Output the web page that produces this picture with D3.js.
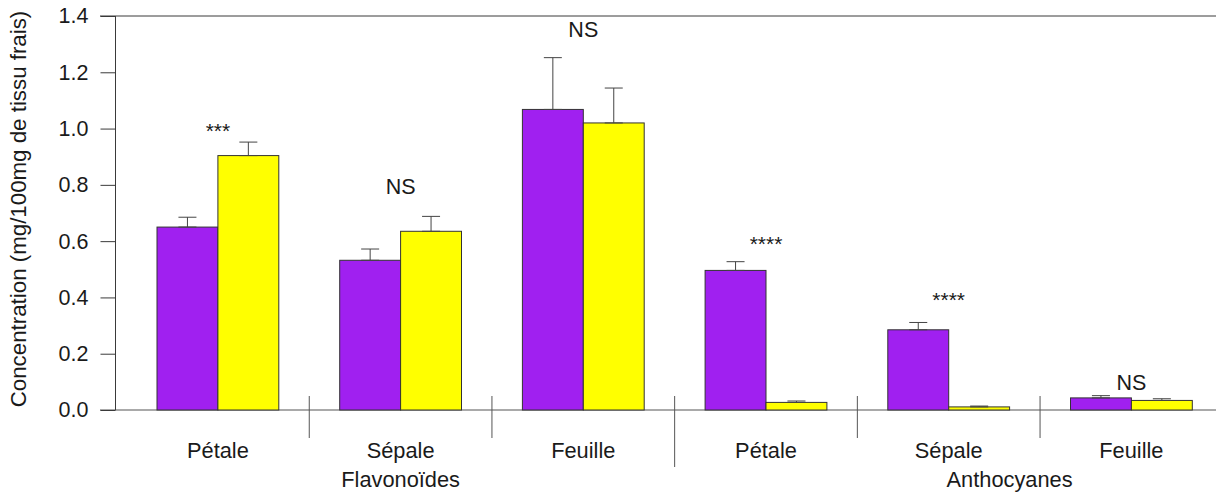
<!DOCTYPE html>
<html>
<head>
<meta charset="utf-8">
<script src="https://cdnjs.cloudflare.com/ajax/libs/d3/7.8.5/d3.min.js"></script>
<style>
  body { margin: 0; background: #fff; }
  text { font-family: "Liberation Sans", Arial, sans-serif; fill: #1a1a1a; }
</style>
</head>
<body>
<svg id="chart" width="1216" height="493"></svg>
<script>
// data
var tissues = ["Pétale", "Sépale", "Feuille", "Pétale", "Sépale", "Feuille"];
var purpleMeans = [0.650, 0.532, 1.068, 0.496, 0.285, 0.043];
var purpleErr   = [0.035, 0.040, 0.184, 0.031, 0.026, 0.008];
var yellowMeans = [0.904, 0.635, 1.020, 0.027, 0.011, 0.034];
var yellowErr   = [0.048, 0.053, 0.124, 0.005, 0.003, 0.006];
var sigLabels = ["***", "NS", "NS", "****", "****", "NS"];
var sigLevels = [0.968, 0.768, 1.325, 0.565, 0.366, 0.071];
var familyNames = ["Flavonoïdes", "Anthocyanes"];
var familyPos = [5, 15];
var yTicks = [0, 0.2, 0.4, 0.6, 0.8, 1.0, 1.2, 1.4];

var svg = d3.select("#chart");

// bar units: each group = 1 space + 2 bars
var xScale = d3.scaleLinear().domain([0, 18]).range([96.1, 1192.3]);
var yScale = d3.scaleLinear().domain([0, 1.4]).range([410, 16]);

var lineColor = "#3a3a3a";

// top and bottom horizontal lines
svg.append("line")
  .attr("x1", 100).attr("x2", 1216)
  .attr("y1", yScale(1.4)).attr("y2", yScale(1.4))
  .attr("stroke", lineColor);
svg.append("line")
  .attr("x1", 100).attr("x2", 1216)
  .attr("y1", yScale(0)).attr("y2", yScale(0))
  .attr("stroke", "#555");

// y axis
var leftAxis = d3.axisLeft(yScale)
  .tickValues(yTicks)
  .tickFormat(d3.format(".1f"))
  .tickSize(15)
  .tickPadding(12);

var yAxis = svg.append("g")
  .attr("transform", "translate(115.5, 0)")
  .call(leftAxis);
yAxis.select(".domain").attr("stroke", lineColor).attr("d", "M0," + yScale(1.4) + "V" + yScale(0));
yAxis.selectAll(".tick line").attr("stroke", lineColor);
yAxis.selectAll(".tick text")
  .style("font-size", "21.5px")
  .style("font-family", "'Liberation Sans', Arial, sans-serif")
  .attr("fill", "#1a1a1a");

// y label
svg.append("text")
  .attr("transform", "translate(26, 209) rotate(-90)")
  .attr("text-anchor", "middle")
  .style("font-size", "22.3px")
  .text("Concentration (mg/100mg de tissu frais)");

// bars
var groups = svg.selectAll("g.grp")
  .data(tissues)
  .enter()
  .append("g")
  .attr("class", "grp");

groups.append("rect")
  .attr("x", (d, i) => xScale(3 * i + 1))
  .attr("y", (d, i) => yScale(purpleMeans[i]))
  .attr("width", xScale(1) - xScale(0))
  .attr("height", (d, i) => yScale(0) - yScale(purpleMeans[i]))
  .attr("fill", "#A020F0")
  .attr("stroke", "#333");

groups.append("rect")
  .attr("x", (d, i) => xScale(3 * i + 2))
  .attr("y", (d, i) => yScale(yellowMeans[i]))
  .attr("width", xScale(1) - xScale(0))
  .attr("height", (d, i) => yScale(0) - yScale(yellowMeans[i]))
  .attr("fill", "#FFFF00")
  .attr("stroke", "#333");

// error bars (upper only, cap at both ends)
function drawErr(sel, offset, means, errs) {
  var cap = 9;
  sel.each(function(d, i) {
    var g = d3.select(this);
    var cx = xScale(3 * i + offset);
    var top = yScale(means[i] + errs[i]);
    var base = yScale(means[i]);
    g.append("line")
      .attr("x1", cx).attr("x2", cx)
      .attr("y1", base).attr("y2", top)
      .attr("stroke", "#444");
    g.append("line")
      .attr("x1", cx - cap).attr("x2", cx + cap)
      .attr("y1", top).attr("y2", top)
      .attr("stroke", "#444");
    g.append("line")
      .attr("x1", cx - cap).attr("x2", cx + cap)
      .attr("y1", base).attr("y2", base)
      .attr("stroke", "#444");
  });
}
drawErr(groups, 1.5, purpleMeans, purpleErr);
drawErr(groups, 2.5, yellowMeans, yellowErr);

// significance labels
groups.append("text")
  .attr("x", (d, i) => xScale(3 * i + 2))
  .attr("y", (d, i) => yScale(sigLevels[i]))
  .attr("text-anchor", "middle")
  .style("font-size", (d, i) => sigLabels[i] === "NS" ? "21.5px" : "21px")
  .text((d, i) => sigLabels[i]);

// tissue labels under the bars
groups.append("text")
  .attr("x", (d, i) => xScale(3 * i + 2))
  .attr("y", 458)
  .attr("text-anchor", "middle")
  .style("font-size", "21.8px")
  .text(d => d);

// separators between groups
var seps = d3.range(1, 6);
svg.selectAll("line.sep")
  .data(seps)
  .enter()
  .append("line")
  .attr("class", "sep")
  .attr("x1", d => xScale(3 * d + 0.5))
  .attr("x2", d => xScale(3 * d + 0.5))
  .attr("y1", 396)
  .attr("y2", d => d === 3 ? 467 : 438)
  .attr("stroke", "#555");

// family labels
svg.selectAll("text.fam")
  .data(familyNames)
  .enter()
  .append("text")
  .attr("class", "fam")
  .attr("x", (d, i) => xScale(familyPos[i]))
  .attr("y", 487)
  .attr("text-anchor", "middle")
  .style("font-size", "21.8px")
  .text(d => d);
</script>
</body>
</html>
